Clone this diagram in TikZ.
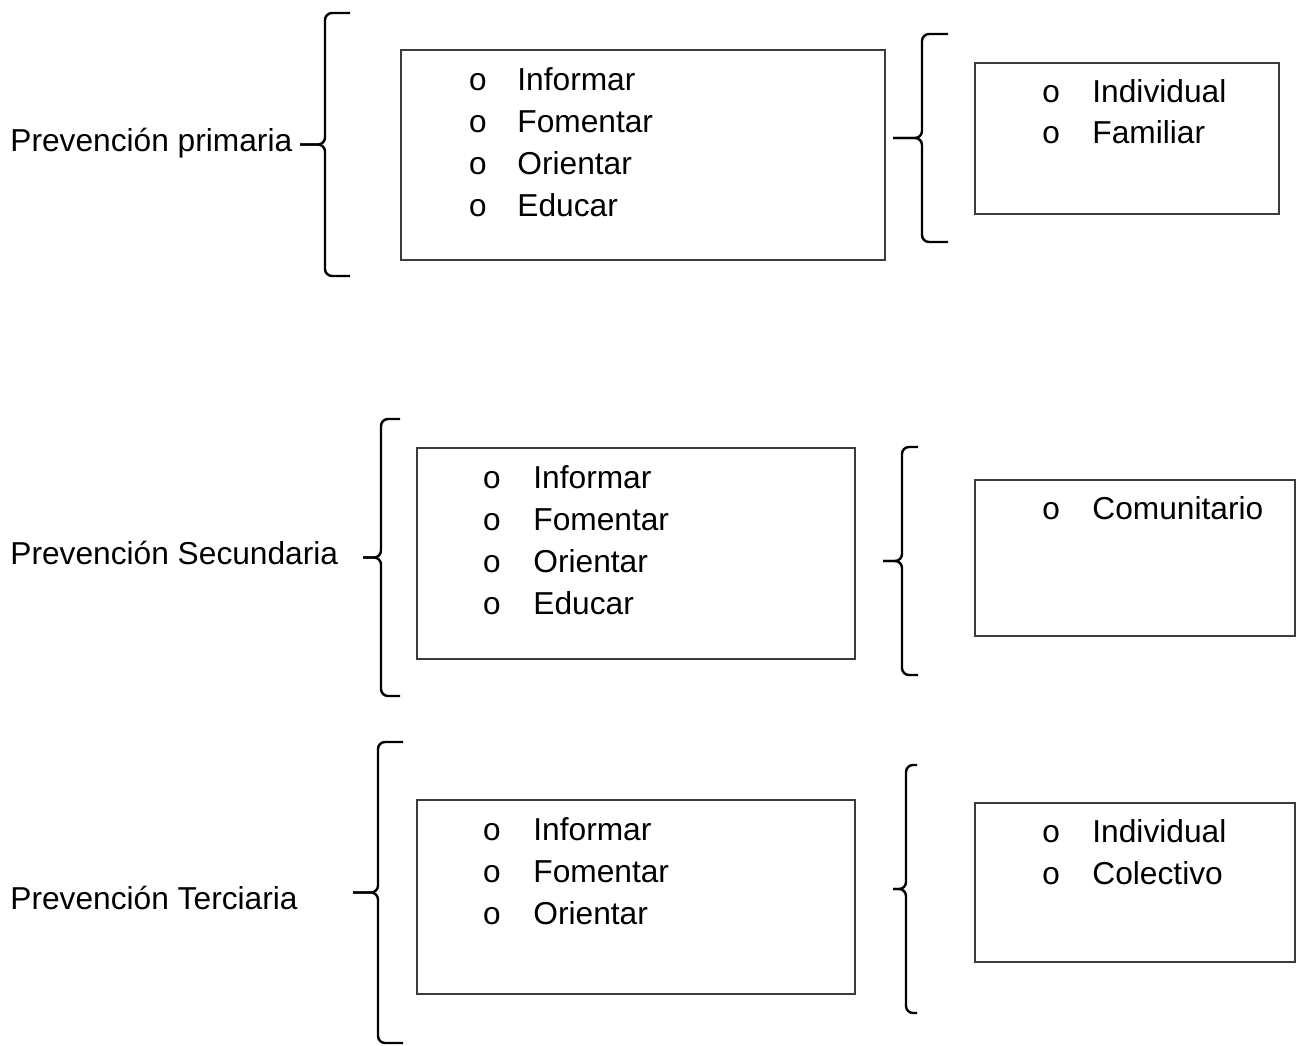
\documentclass[tikz,border=0pt]{standalone}
\usepackage{fontspec}
\setmainfont{Liberation Sans}
\newfontfamily\vineta{Liberation Mono}
\usepackage{tikz}
\definecolor{bordegris}{HTML}{3C3C3C}
\tikzset{
  caja/.style={draw=bordegris, line width=0.75pt, anchor=north west, inner sep=0pt},
  llave/.style={draw=black, line width=1.2pt, rounded corners=3.5pt},
  texto/.style={anchor=base west, inner sep=0pt, font=\fontsize{15.85}{19}\selectfont},
  punto/.style={anchor=base, inner sep=0pt, font=\vineta\fontsize{15.85}{19}\selectfont},
}

\begin{document}
\begin{tikzpicture}[x=0.5pt, y=-0.5pt]
  % Lienzo (en pixeles de la imagen)
  \useasboundingbox (0,0) rectangle (1300,1045);

  % Niveles de prevencion
  \node[texto] (prim) at (10,151) {Prevención primaria};
  \node[texto] (secu) at (10,564) {Prevención Secundaria};
  \node[texto] (terc) at (10,909) {Prevención Terciaria};

  % Cajas: nombre/x/y/ancho/alto
  \foreach \n/\x/\y/\w/\h in {
    acc1/400/49/484/210, amb1/974/62/304/151,
    acc2/416/447/438/211, amb2/974/479/320/156,
    acc3/416/799/438/194, amb3/974/802/320/159}{
    \node[caja, minimum width=\w*0.5pt, minimum height=\h*0.5pt] (\n) at (\x,\y) {};
  }

  % Listas con vinetas: caja/x vineta/x texto/primera linea/paso/elementos
  \foreach \n/\bx/\tx/\y/\d/\lista in {
    acc1/478/517/90/42/{Informar,Fomentar,Orientar,Educar},
    amb1/1051/1092/102/41/{Individual,Familiar},
    acc2/492/533/488/42/{Informar,Fomentar,Orientar,Educar},
    amb2/1051/1092/519/42/{Comunitario},
    acc3/492/533/840/42/{Informar,Fomentar,Orientar},
    amb3/1051/1092/842/42/{Individual,Colectivo}}{
    \foreach \t [count=\k] in \lista {
      \node[punto] (\n-v\k) at (\bx,{\y+(\k-1)*\d}) {o};
      \node[texto] (\n-\k) at (\tx,{\y+(\k-1)*\d}) {\t};
    }
  }

  % Llaves: x vertical/arriba/abajo/x punta/x brazo
  \foreach \vx/\ya/\yb/\px/\ax in {
    325/13/276/300/350, 922/34/242/893/948,
    381/419/696/363/400, 902/447/675/883/918,
    378/742/1043/353/403, 906/765/1013/893/917}{
    \draw[llave] (\ax,\ya) -- (\vx,\ya) -- (\vx,{(\ya+\yb)/2}) -- (\px,{(\ya+\yb)/2});
    \draw[llave] (\px,{(\ya+\yb)/2}) -- (\vx,{(\ya+\yb)/2}) -- (\vx,\yb) -- (\ax,\yb);
  }
\end{tikzpicture}
\end{document}
